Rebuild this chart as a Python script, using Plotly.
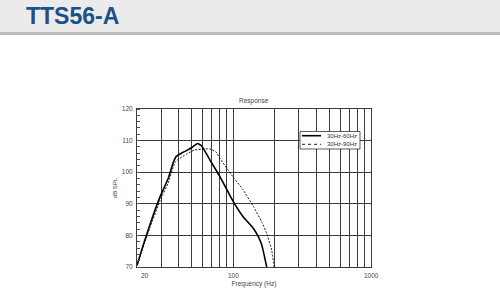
import math
import plotly.graph_objects as go

# ---- data ----
series_names = ["30Hz-60Hz", "30Hz-90Hz"]
freq_solid = [20, 22, 25, 29.4, 33.7, 36.5, 38.5, 42, 46, 50, 55, 59, 67.6, 80, 100, 118, 140, 152, 161, 175]
db_solid = [70.5, 76.4, 83.8, 92.2, 98.0, 102.8, 105.0, 106.0, 106.9, 107.8, 109.1, 108.3, 103.9, 98.6, 90.7, 85.9, 82.2, 79.6, 77.0, 70.0]
freq_dash = [20, 25, 29.4, 33.7, 38, 46, 52, 60, 67.6, 75, 80, 90, 100, 118, 140, 161, 175, 190, 198]
db_dash = [70.8, 82.8, 91.0, 96.6, 103.3, 105.8, 107.0, 107.3, 107.4, 106.4, 104.4, 101.2, 98.4, 94.4, 89.1, 84.3, 80.6, 75.4, 70.0]

x_grid = [30, 40, 50, 60, 70, 80, 90, 100, 200, 300, 400, 500, 600, 700, 800, 900]
x_labels = {20: "20", 100: "100", 1000: "1000"}
y_ticks = [70, 80, 90, 100, 110, 120]

header_text = "TTS56-A"
chart_title = "Response"
x_title = "Frequency (Hz)"
y_title = "dB SPL"

W, H = 500, 297
L, R, T, B = 137, 371, 109, 267

def px_x(p):
    return (p - L) / (R - L)

def px_y(p):
    return (B - p) / (B - T)

fig = go.Figure()
fig.add_trace(go.Scatter(x=freq_solid, y=db_solid, mode="lines", name=series_names[0],
                         line=dict(color="#000000", width=1.6, shape="spline", smoothing=0.4), showlegend=False))
fig.add_trace(go.Scatter(x=freq_dash, y=db_dash, mode="lines", name=series_names[1],
                         line=dict(color="#000000", width=0.9, dash="2px,1.5px", shape="spline", smoothing=0.4),
                         showlegend=False))

gridc = "#3c3c3c"
txtc = "#444444"
tickfont = dict(family="Liberation Sans, Arial", size=6.5, color=txtc)

fig.update_xaxes(type="log", range=[math.log10(20), 3], tickvals=x_grid, ticktext=[""] * len(x_grid),
                 showgrid=True, gridcolor=gridc, gridwidth=1, ticks="",
                 showline=True, linecolor=gridc, linewidth=1, mirror=True, zeroline=False,
                 title=dict(text=x_title, font=dict(family="Liberation Sans, Arial", size=6.5, color=txtc), standoff=12))
fig.update_yaxes(range=[70, 120], tickvals=y_ticks, showgrid=True, gridcolor=gridc, gridwidth=1,
                 ticks="", tickfont=tickfont, ticklabelstandoff=2,
                 minor=dict(ticks="inside", dtick=2, ticklen=3, tickcolor="#555555", showgrid=False),
                 showline=True, linecolor=gridc, linewidth=1, mirror=True, zeroline=False,
                 title=dict(text=y_title, font=dict(family="Liberation Sans, Arial", size=6, color=txtc), standoff=3))

annotations = []
for v, t in x_labels.items():
    annotations.append(dict(x=math.log10(v), y=0, xref="x", yref="paper", text=t,
                            showarrow=False, yanchor="top", yshift=-3,
                            xanchor="left" if v == 20 else "center",
                            xshift=2 if v == 20 else 0, font=tickfont))
annotations.append(dict(x=0.5, y=1, xref="paper", yref="paper", text=chart_title, showarrow=False,
                        yanchor="bottom", yshift=2, font=dict(family="Liberation Sans, Arial", size=6.5, color=txtc)))
annotations.append(dict(x=px_x(24), y=px_y(15.5), xref="paper", yref="paper", text="<b>" + header_text + "</b>",
                        showarrow=False, xanchor="left", yanchor="middle",
                        font=dict(family="Liberation Sans Narrow, Arial Narrow, Liberation Sans", size=23, color="#1c5089")))

shapes = [
    dict(type="rect", xref="paper", yref="paper", x0=px_x(0), x1=px_x(W), y0=px_y(32), y1=px_y(0),
         fillcolor="#ebebeb", line=dict(width=0), layer="below"),
    dict(type="rect", xref="paper", yref="paper", x0=px_x(0), x1=px_x(W), y0=px_y(35), y1=px_y(32),
         fillcolor="#bdbdbd", line=dict(width=0), layer="below"),
    # legend box
    dict(type="rect", xref="paper", yref="paper", x0=px_x(300), x1=px_x(360), y0=px_y(149), y1=px_y(131.5),
         fillcolor="white", line=dict(color="#333333", width=0.8)),
]
legend_rows = [(135.7, dict(color="#000000", width=1.6)), (144.3, dict(color="#000000", width=0.9, dash="dot"))]
for (yy, ln), name in zip(legend_rows, series_names):
    shapes.append(dict(type="line", xref="paper", yref="paper", x0=px_x(302), x1=px_x(321),
                       y0=px_y(yy), y1=px_y(yy), line=ln))
    annotations.append(dict(x=px_x(325), y=px_y(yy), xref="paper", yref="paper", text=name, showarrow=False,
                            xanchor="left", yanchor="middle",
                            font=dict(family="Liberation Sans, Arial", size=6, color="#333333")))

fig.update_layout(width=W, height=H, margin=dict(l=L, r=W - R, t=T, b=H - B, pad=0),
                  paper_bgcolor="white", plot_bgcolor="white",
                  shapes=shapes, annotations=annotations, showlegend=False)
fig.write_html("out.html")
